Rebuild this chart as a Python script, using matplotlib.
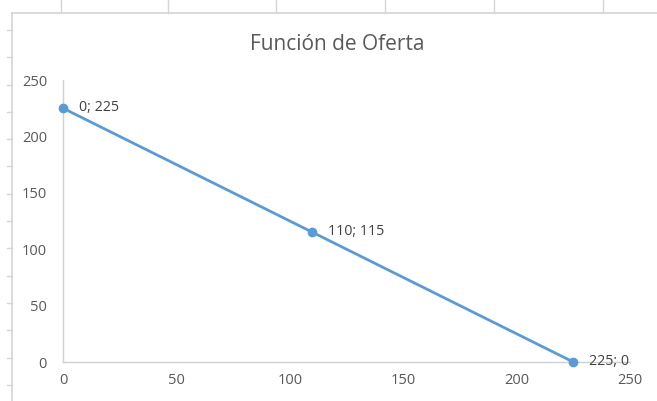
import matplotlib
matplotlib.use("Agg")
import matplotlib.pyplot as plt
from matplotlib.lines import Line2D

# Supply function points
cantidad = [0, 110, 225]
precio = [225, 115, 0]
etiquetas = ["0; 225", "110; 115", "225; 0"]
x_ticks = [0, 50, 100, 150, 200, 250]
y_ticks = [0, 50, 100, 150, 200, 250]
titulo = "Función de Oferta"

W, H = 657, 401
plt.rcParams['font.family'] = ['Open Sans', 'DejaVu Sans']

fig = plt.figure(figsize=(W / 100, H / 100), dpi=100)
fig.patch.set_facecolor('white')

# Worksheet grid lines around the chart object (pixel coordinates)
grid_col = '#d6d6d6'
def px_line(x0, y0, x1, y1, lw=1.0):
    fig.add_artist(Line2D([x0 / W, x1 / W], [1 - y0 / H, 1 - y1 / H],
                          transform=fig.transFigure, color=grid_col, lw=lw))

px_line(12, 13, W, 13, 1.2)
px_line(12, 13, 12, H, 1.2)
for cx in [61, 168, 276, 385, 494, 603]:
    px_line(cx, 0, cx, 13)
ry = 30.0
while ry < H:
    px_line(7, ry, 12, ry)
    ry += 27.3

ax = fig.add_axes([63 / W, (H - 362) / H, (630 - 63) / W, (362 - 80) / H])
ax.set_facecolor('none')

blue = '#5B9BD5'
ax.plot(cantidad, precio, color=blue, lw=2.0, marker='o', markersize=6,
        markerfacecolor=blue, markeredgecolor=blue, clip_on=False, zorder=3)

for xv, yv, lab in zip(cantidad, precio, etiquetas):
    ax.annotate(lab, (xv, yv), xytext=(11.5, 0.5), textcoords='offset points',
                ha='left', va='center', fontsize=10.3, color='#404040', zorder=4)

ax.set_xlim(0, 250)
ax.set_ylim(0, 250)
ax.set_xticks(x_ticks)
ax.set_yticks(y_ticks)
ax.tick_params(length=0, labelsize=10.5, labelcolor='#595959')
ax.tick_params(axis='x', pad=8)
ax.tick_params(axis='y', pad=11.5)

for side in ['top', 'right']:
    ax.spines[side].set_visible(False)
for side in ['left', 'bottom']:
    ax.spines[side].set_color('#d0d0d0')
    ax.spines[side].set_linewidth(1.0)

fig.text(337 / W, 1 - 44 / H, titulo, ha='center', va='center',
         fontsize=15, color='#595959')

fig.savefig('out.png', dpi=100, facecolor='white')
